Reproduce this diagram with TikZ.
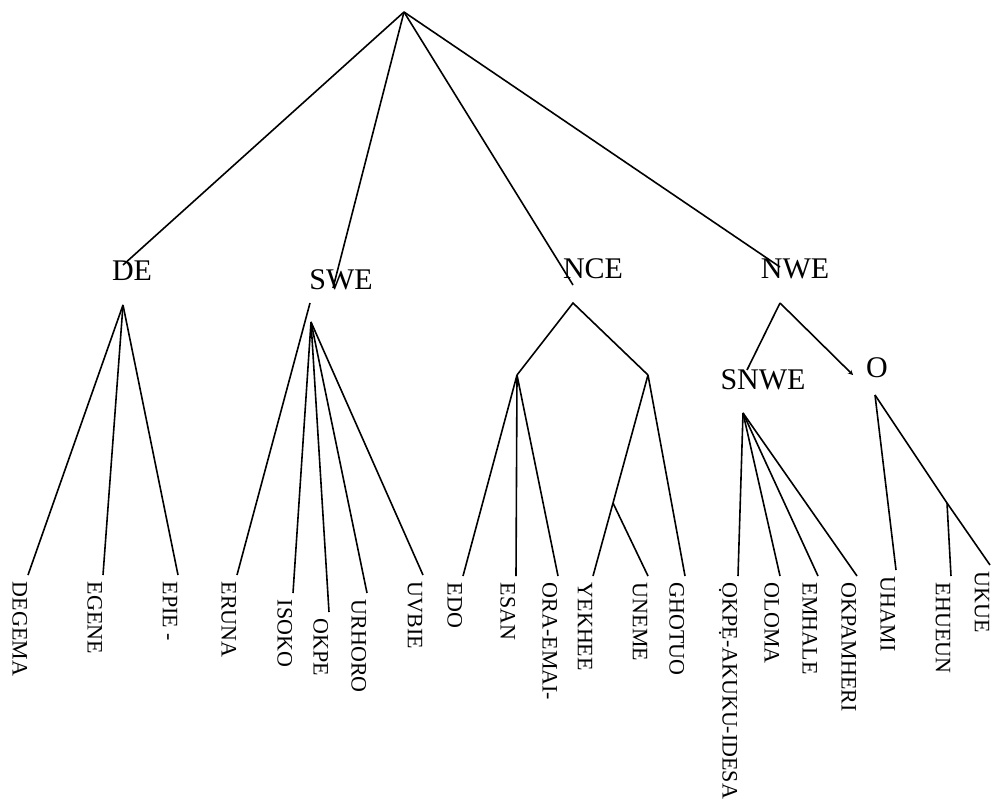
\documentclass[tikz,border=0pt]{standalone}
\usepackage{fontspec}
\setmainfont{Liberation Serif}
\usetikzlibrary{arrows.meta}
\begin{document}
\begin{tikzpicture}[x=1pt,y=1pt,line width=1.6pt]
\tikzstyle{every node}+=[inner sep=0pt]
\tikzstyle{grp}=[font=\fontsize{30}{36}\selectfont]
\tikzstyle{leaf}=[font=\fontsize{22}{26}\selectfont,rotate=-90,anchor=north west,inner xsep=6pt]
\useasboundingbox (0,0) rectangle (992,-803);
\coordinate (root) at (404,-12);
% group labels
\node [grp] (de) at (132,-271) {DE};
\node [grp] (swe) at (341,-280) {SWE};
\node [grp] (nce) at (593,-269) {NCE};
\node [grp] (nwe) at (795,-269) {NWE};
\node [grp] (snwe) at (763,-380) {SNWE};
\node [grp] (o) at (877,-368) {O};
% branching points
\coordinate (de-in) at (123,-265);
\coordinate (de-out) at (123,-305);
\coordinate (swe-in) at (333,-288);
\coordinate (swe-out) at (310,-303);
\coordinate (swe-sub) at (311,-322);
\coordinate (nce-in) at (573,-285);
\coordinate (nce-out) at (573,-303);
\coordinate (nce-l) at (517,-375);
\coordinate (nce-r) at (648,-375);
\coordinate (nce-rr) at (613,-503);
\coordinate (nwe-in) at (780,-267);
\coordinate (nwe-out) at (780,-303);
\coordinate (snwe-in) at (747,-370);
\coordinate (o-in) at (853,-375);
\coordinate (snwe-out) at (743,-413);
\coordinate (o-out) at (875,-395);
\coordinate (o-sub) at (947,-503);
% leaves
\node [leaf] (degema) at (28,-575) {DEGEMA};
\node [leaf] (egene) at (103,-575) {EGENE};
\node [leaf] (epie) at (178,-575) {EPIE -};
\node [leaf] (eruna) at (237,-575) {ERUNA};
\node [leaf] (isoko) at (293,-593) {ISOKO};
\node [leaf] (okpe) at (329,-612) {OKPE};
\node [leaf] (urhoro) at (367,-593) {URHORO};
\node [leaf] (uvbie) at (423,-575) {UVBIE};
\node [leaf] (edo) at (463,-576) {EDO};
\node [leaf] (esan) at (516,-576) {ESAN};
\node [leaf] (oraemai) at (558,-576) {ORA-EMAI-};
\node [leaf] (yekhee) at (593,-576) {YEKHEE};
\node [leaf] (uneme) at (648,-576) {UNEME};
\node [leaf] (ghotuo) at (685,-576) {GHOTUO};
\node [leaf] (okpeakuku) at (738,-576) {ỌKPẸ-AKUKU-IDESA};
\node [leaf] (oloma) at (780,-576) {OLOMA};
\node [leaf] (emhale) at (818,-576) {EMHALE};
\node [leaf] (okpamheri) at (857,-576) {OKPAMHERI};
\node [leaf] (uhami) at (896,-570) {UHAMI};
\node [leaf] (ehueun) at (951,-576) {EHUEUN};
\node [leaf] (ukue) at (990,-565) {UKUE};
% top level
\draw [black] (root) -- (de-in);
\draw [black] (root) -- (swe-in);
\draw [black] (root) -- (nce-in);
\draw [black] (root) -- (nwe-in);
% DE
\draw [black] (de-out) -- (degema.north west);
\draw [black] (de-out) -- (egene.north west);
\draw [black] (de-out) -- (epie.north west);
% SWE
\draw [black] (swe-out) -- (eruna.north west);
\draw [black] (swe-sub) -- (isoko.north west);
\draw [black] (swe-sub) -- (okpe.north west);
\draw [black] (swe-sub) -- (urhoro.north west);
\draw [black] (swe-sub) -- (uvbie.north west);
% NCE
\draw [black] (nce-l) -- (nce-out) -- (nce-r);
\draw [black] (nce-l) -- (edo.north west);
\draw [black] (nce-l) -- (esan.north west);
\draw [black] (nce-l) -- (oraemai.north west);
\draw [black] (nce-r) -- (nce-rr) -- (yekhee.north west);
\draw [black] (nce-rr) -- (uneme.north west);
\draw [black] (nce-r) -- (ghotuo.north west);
% NWE
\draw [black] (nwe-out) -- (snwe-in);
\draw [black,-{Stealth[length=5pt,width=5pt]}] (nwe-out) -- (o-in);
\draw [black] (snwe-out) -- (okpeakuku.north west);
\draw [black] (snwe-out) -- (oloma.north west);
\draw [black] (snwe-out) -- (emhale.north west);
\draw [black] (snwe-out) -- (okpamheri.north west);
\draw [black] (o-out) -- (uhami.north west);
\draw [black] (o-out) -- (o-sub) -- (ukue.north west);
\draw [black] (o-sub) -- (ehueun.north west);
\end{tikzpicture}
\end{document}
